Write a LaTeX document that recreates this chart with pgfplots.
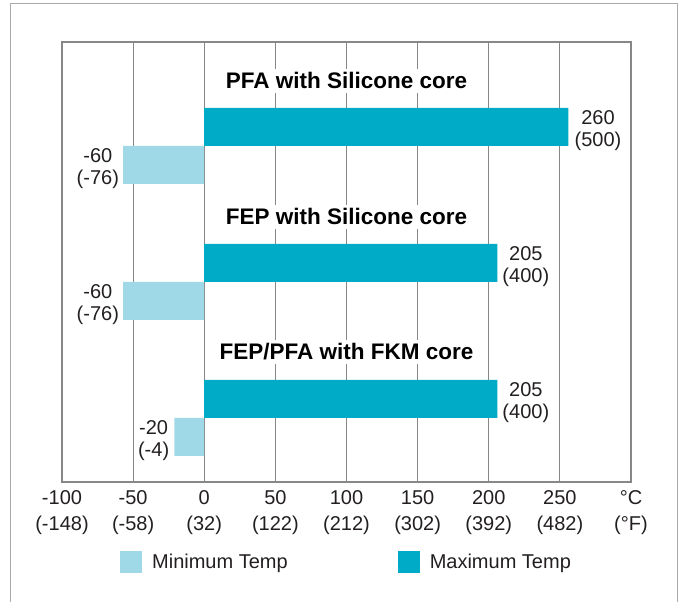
\documentclass[border=0pt]{standalone}
\usepackage{pgfplots}
\pgfplotsset{compat=1.18}
\usepackage{fontspec}
\setmainfont{Liberation Sans}
\definecolor{maxc}{RGB}{0,171,199}
\definecolor{minc}{RGB}{159,216,230}
\definecolor{txt}{RGB}{35,31,32}
\definecolor{gridc}{RGB}{135,135,135}
\definecolor{framec}{RGB}{170,170,170}
\begin{document}
\begin{tikzpicture}
\useasboundingbox (-62pt,-120pt) rectangle (621pt,482pt);
\draw[framec, line width=1pt] (-51pt,-121pt) -- (-51pt,478pt) -- (615pt,478pt) -- (615pt,-121pt);
\begin{axis}[
  scale only axis, width=569pt, height=440pt,
  xmin=-100, xmax=300, ymin=0, ymax=440,
  axis line style={gridc, line width=1.3pt},
  xtick={-100,-50,0,50,100,150,200,250,300},
  xticklabels={{-100\\(-148)},{-50\\(-58)},{0\\(32)},{50\\(122)},{100\\(212)},{150\\(302)},{200\\(392)},{250\\(482)},{°C\\(°F)}},
  xticklabel style={align=center, font=\fontsize{20}{26}\selectfont, text=txt, yshift=-5pt},
  major tick length=0pt,
  ytick=\empty,
  xmajorgrids, grid style={gridc, line width=0.8pt},
  xbar, bar shift=0pt, bar width=38,
  legend columns=2,
  legend style={at={(0.1019,-0.1818)}, anchor=west, draw=none, fill=none, inner sep=0pt,
    font=\fontsize{20}{24}\selectfont, text=txt,
    /tikz/every odd column/.append style={column sep=8pt},
    /tikz/every even column/.append style={column sep=108pt}},
  legend image code/.code={\fill[#1] (0pt,-11pt) rectangle (22pt,11pt);},
]
\addplot[fill=minc, draw=none] coordinates {(-57,317) (-57,181) (-21,45)};
\addplot[fill=maxc, draw=none] coordinates {(256,355) (206,219) (206,83)};
\legend{Minimum Temp, Maximum Temp}

\begin{scope}[every node/.style={align=center, font=\fontsize{20}{22}\selectfont, text=txt, yshift=-3.5pt}]
\node[anchor=west, inner xsep=6pt] at (axis cs:256,355) {260\\(500)};
\node[anchor=west, inner xsep=5pt] at (axis cs:206,219) {205\\(400)};
\node[anchor=west, inner xsep=5pt] at (axis cs:206,83) {205\\(400)};
\node[anchor=east, inner xsep=4pt] at (axis cs:-57,317) {-60\\(-76)};
\node[anchor=east, inner xsep=4pt] at (axis cs:-57,181) {-60\\(-76)};
\node[anchor=east, inner xsep=5pt] at (axis cs:-21,45) {-20\\(-4)};
\end{scope}
\begin{scope}[every node/.style={anchor=base, fill=white, inner xsep=3pt, inner ysep=4pt, font=\bfseries\fontsize{22.5}{27}\selectfont, text=black}]
\node at (axis cs:100,393) {PFA with Silicone core};
\node at (axis cs:100,257) {FEP with Silicone core};
\node at (axis cs:100,122) {FEP/PFA with FKM core};
\end{scope}
\end{axis}
\end{tikzpicture}
\end{document}
